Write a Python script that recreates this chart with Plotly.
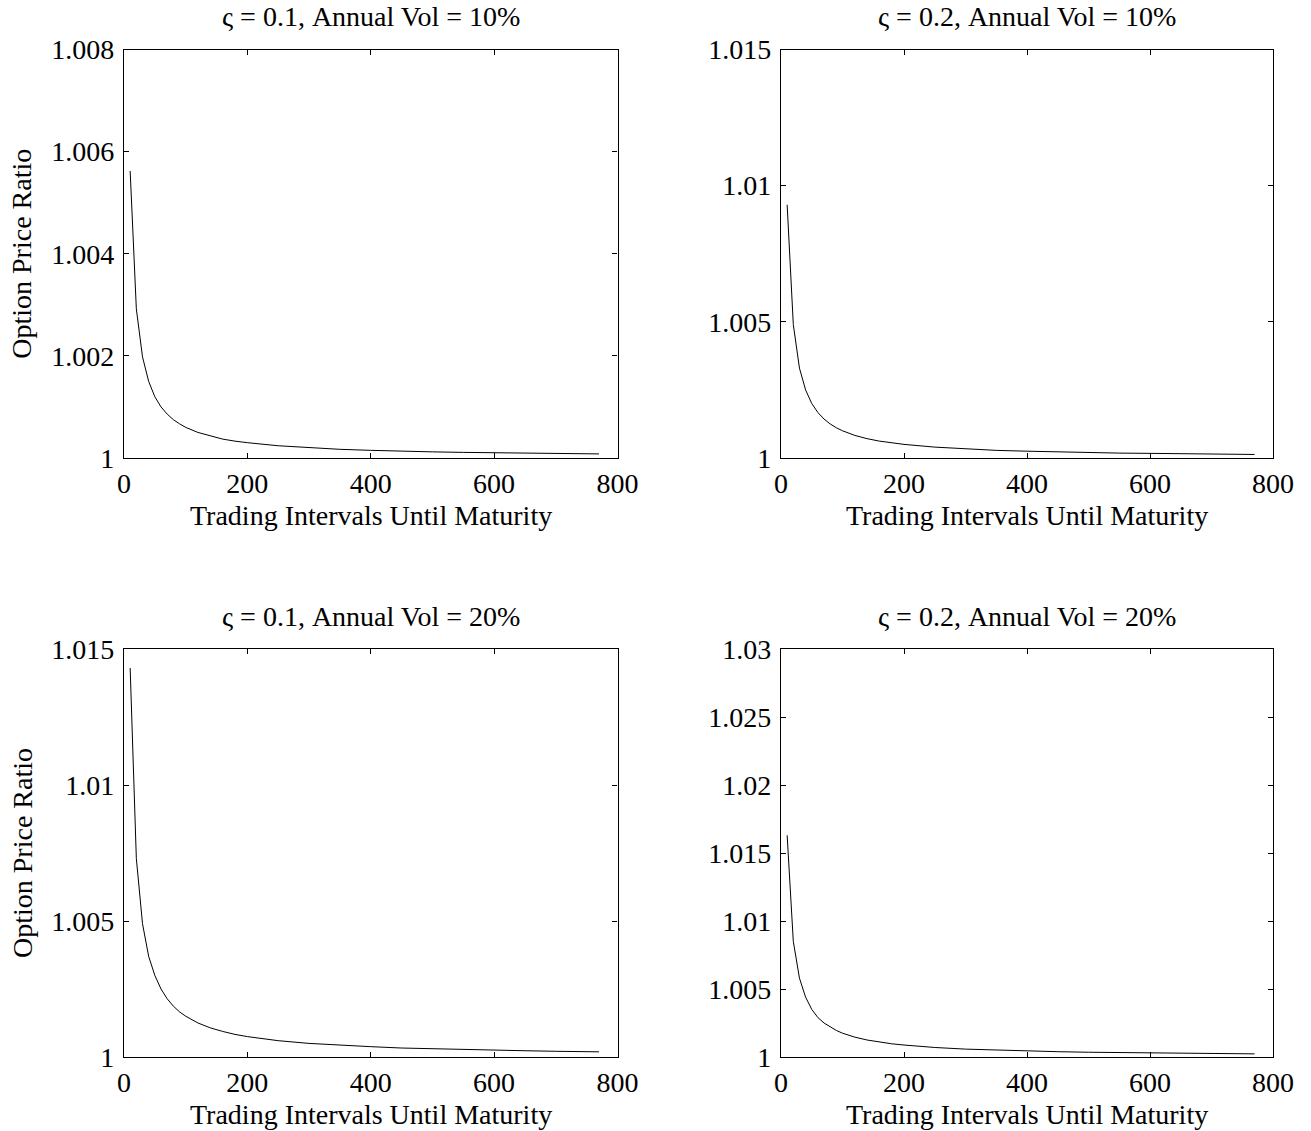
import plotly.graph_objects as go

W, H = 1311, 1131

intervals = [10, 20, 30, 40, 50, 60, 70, 80, 90, 100, 120, 140, 160, 180, 200,
             250, 300, 350, 400, 450, 500, 550, 600, 650, 700, 770]

ratio_s01_v10 = [1.00562, 1.00292, 1.00198, 1.00150, 1.00120, 1.00100, 1.00086, 1.00075,
                 1.00067, 1.00060, 1.00050, 1.00043, 1.00037, 1.00033, 1.00030, 1.00024,
                 1.00020, 1.00017, 1.00015, 1.00013, 1.00012, 1.00011, 1.00010, 1.00009,
                 1.00009, 1.00008]
ratio_s02_v10 = [1.0093, 1.0049, 1.0033, 1.0025, 1.0020, 1.00167, 1.00143, 1.00125,
                 1.00111, 1.00100, 1.00083, 1.00071, 1.00062, 1.00055, 1.00050, 1.00040,
                 1.00033, 1.00028, 1.00025, 1.00022, 1.00020, 1.00018, 1.00017, 1.00015,
                 1.00014, 1.00013]
ratio_s01_v20 = [1.0143, 1.0073, 1.0049, 1.0037, 1.0030, 1.0025, 1.00214, 1.00187,
                 1.00166, 1.00150, 1.00125, 1.00107, 1.00094, 1.00083, 1.00075, 1.00060,
                 1.00050, 1.00043, 1.00038, 1.00033, 1.00030, 1.00027, 1.00025, 1.00023,
                 1.00021, 1.00019]
ratio_s02_v20 = [1.0163, 1.0085, 1.0058, 1.0044, 1.0035, 1.0029, 1.0025, 1.0022,
                 1.00195, 1.00175, 1.00146, 1.00125, 1.00110, 1.00097, 1.00088, 1.00070,
                 1.00058, 1.00050, 1.00044, 1.00039, 1.00035, 1.00032, 1.00029, 1.00027,
                 1.00025, 1.00023]

titles = ["ς = 0.1, Annual Vol = 10%", "ς = 0.2, Annual Vol = 10%",
          "ς = 0.1, Annual Vol = 20%", "ς = 0.2, Annual Vol = 20%"]
x_title = "Trading Intervals Until Maturity"
y_title = "Option Price Ratio"

x_ticks = [0, 200, 400, 600, 800]
x_ticktext = ["0", "200", "400", "600", "800"]

y_ticks_1 = [1.0, 1.002, 1.004, 1.006, 1.008]
y_ticktext_1 = ["1", "1.002", "1.004", "1.006", "1.008"]
y_ticks_2 = [1.0, 1.005, 1.01, 1.015]
y_ticktext_2 = ["1", "1.005", "1.01", "1.015"]
y_ticks_4 = [1.0, 1.005, 1.01, 1.015, 1.02, 1.025, 1.03]
y_ticktext_4 = ["1", "1.005", "1.01", "1.015", "1.02", "1.025", "1.03"]

series = [ratio_s01_v10, ratio_s02_v10, ratio_s01_v20, ratio_s02_v20]
yranges = [[1.0, 1.008], [1.0, 1.015], [1.0, 1.015], [1.0, 1.03]]
yticks = [(y_ticks_1, y_ticktext_1), (y_ticks_2, y_ticktext_2),
          (y_ticks_2, y_ticktext_2), (y_ticks_4, y_ticktext_4)]

# pixel boxes (left, right, top, bottom)
boxes = [(124, 617.5, 49.5, 458), (781, 1273, 49.5, 458),
         (124, 617.5, 649, 1057), (781, 1273, 649, 1057)]

FONT = "Liberation Serif, Times New Roman, serif"
FS = 28
fig = go.Figure()
annotations = []
for i in range(4):
    k = "" if i == 0 else str(i + 1)
    fig.add_trace(go.Scatter(x=intervals, y=series[i], mode="lines",
                             line=dict(color="black", width=1),
                             xaxis="x" + k, yaxis="y" + k, showlegend=False))
    l, r, t, b = boxes[i]
    ax = dict(domain=[l / W, r / W], range=[0, 800], tickvals=x_ticks, ticktext=x_ticktext,
              ticks="inside", ticklen=5, tickcolor="black", showline=True, linecolor="black",
              linewidth=1.3, mirror="ticks", showgrid=False, zeroline=False, automargin=False,
              anchor="y" + k, tickfont=dict(size=FS, color="black", family=FONT))
    tv, tt = yticks[i]
    ay = dict(domain=[1 - b / H, 1 - t / H], range=yranges[i], tickvals=tv, ticktext=tt,
              ticks="inside", ticklen=5, tickcolor="black", showline=True, linecolor="black",
              linewidth=1.3, mirror="ticks", showgrid=False, zeroline=False, automargin=False,
              anchor="x" + k, ticklabelstandoff=3,
              tickfont=dict(size=FS, color="black", family=FONT))
    fig.update_layout(**{"xaxis" + k: ax, "yaxis" + k: ay})
    annotations.append(dict(text=titles[i], x=(l + r) / 2 / W, y=1 - (t - 33) / H,
                            xref="paper", yref="paper", xanchor="center", yanchor="middle",
                            showarrow=False, font=dict(size=FS, color="black", family=FONT)))
    annotations.append(dict(text=x_title, x=(l + r) / 2 / W, y=1 - (b + 57) / H,
                            xref="paper", yref="paper", xanchor="center", yanchor="middle",
                            showarrow=False, font=dict(size=FS, color="black", family=FONT)))
    if i in (0, 2):
        annotations.append(dict(text=y_title, x=22 / W, y=1 - (t + b) / 2 / H, textangle=-90,
                                xref="paper", yref="paper", xanchor="center", yanchor="middle",
                                showarrow=False, font=dict(size=FS, color="black", family=FONT)))

fig.update_layout(width=W, height=H, margin=dict(l=0, r=0, t=0, b=0),
                  paper_bgcolor="white", plot_bgcolor="white", annotations=annotations)
fig.write_html("out.html")
